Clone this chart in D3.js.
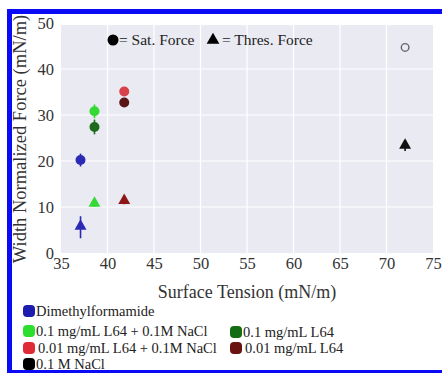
<!DOCTYPE html>
<html>
<head>
<meta charset="utf-8">
<script src="https://cdn.jsdelivr.net/npm/d3@7"></script>
<style>
  body { margin: 0; background: #fff; }
  svg text { font-family: "Liberation Serif", "Times New Roman", Times, "DejaVu Serif", serif !important; }
</style>
</head>
<body>
<svg id="chart" width="442" height="374"></svg>
<script>
// Data
const seriesNames = [
    "Dimethylformamide",
    "0.1 mg/mL L64 + 0.1M NaCl",
    "0.1 mg/mL L64",
    "0.01 mg/mL L64 + 0.1M NaCl",
    "0.01 mg/mL L64",
    "0.1 M NaCl"
];
const seriesColors = ["#1c1cae", "#2ede2e", "#136e13", "#e02a36", "#6a1212", "#000000"];
const markerColors = ["#2a2ab4", "#36d836", "#1f6a1f", "#d8404a", "#5a1616", "#111111"];
const surfaceTension = [37.1, 38.6, 38.6, 41.8, 41.8, 72.0];
const satForce = [20.2, 30.8, 27.4, 35.1, 32.7, 44.7];
const satErr = [1.4, 1.5, 1.6, 0.6, 0.6, 0];
const thresForce = [5.6, 10.6, null, null, 11.2, 23.2];
const thresErr = [2.4, 0.6, 0, 0, 0.6, 1.0];
const xTicks = [35, 40, 45, 50, 55, 60, 65, 70, 75];
const yTicks = [0, 10, 20, 30, 40, 50];

const svg = d3.select("#chart");

const plot = { left: 61, right: 433, top: 23, bottom: 253 };

const x = d3.scaleLinear().domain([35, 75]).range([plot.left, plot.right]);
const y = d3.scaleLinear().domain([0, 50]).range([plot.bottom, plot.top]);

// Plot background (seaborn darkgrid look)
svg.append("rect")
    .attr("x", plot.left)
    .attr("y", plot.top + 2)
    .attr("width", plot.right - plot.left)
    .attr("height", plot.bottom - plot.top - 2)
    .attr("fill", "#eaeaf2");

// Grid lines
const grid = svg.append("g").attr("stroke", "#ffffff").attr("stroke-width", 1.2);
grid.selectAll("line.v")
    .data(xTicks.slice(1, -1))
    .enter().append("line")
    .attr("x1", d => x(d)).attr("x2", d => x(d))
    .attr("y1", plot.top + 2).attr("y2", plot.bottom);
grid.selectAll("line.h")
    .data(yTicks.slice(1, -1))
    .enter().append("line")
    .attr("x1", plot.left).attr("x2", plot.right)
    .attr("y1", d => y(d)).attr("y2", d => y(d));

// Axes (labels only)
const xAxis = svg.append("g")
    .attr("transform", `translate(0, ${plot.bottom})`)
    .call(d3.axisBottom(x).tickValues(xTicks).tickSize(0).tickPadding(4));
const yAxis = svg.append("g")
    .attr("transform", `translate(${plot.left}, 0)`)
    .call(d3.axisLeft(y).tickValues(yTicks).tickSize(0).tickPadding(7));
[xAxis, yAxis].forEach(a => {
    a.select(".domain").remove();
    a.selectAll("text")
        .attr("font-size", 16.5)
        .attr("fill", "#333");
});

// Axis titles
svg.append("text")
    .attr("x", 247).attr("y", 298)
    .attr("text-anchor", "middle")
    .attr("font-size", 18)
    .attr("fill", "#333")
    .text("Surface Tension (mN/m)");
svg.append("text")
    .attr("transform", "translate(26, 139) rotate(-90)")
    .attr("text-anchor", "middle")
    .attr("font-size", 18.5)
    .attr("fill", "#333")
    .text("Width Normalized Force (mN/m)");

// Error bars
const marks = svg.append("g");
seriesNames.forEach((name, i) => {
    if (satErr[i] > 0) {
        marks.append("line")
            .attr("x1", x(surfaceTension[i])).attr("x2", x(surfaceTension[i]))
            .attr("y1", y(satForce[i] - satErr[i])).attr("y2", y(satForce[i] + satErr[i]))
            .attr("stroke", markerColors[i]).attr("stroke-width", 1.6);
    }
    if (thresForce[i] !== null && thresErr[i] > 0) {
        marks.append("line")
            .attr("x1", x(surfaceTension[i])).attr("x2", x(surfaceTension[i]))
            .attr("y1", y(thresForce[i] - thresErr[i])).attr("y2", y(thresForce[i] + thresErr[i]))
            .attr("stroke", markerColors[i]).attr("stroke-width", 1.6);
    }
});

// Saturation force: circles (0.1 M NaCl drawn open)
marks.selectAll("circle.sat")
    .data(seriesNames.map((n, i) => i))
    .enter().append("circle")
    .attr("cx", i => x(surfaceTension[i]))
    .attr("cy", i => y(satForce[i]))
    .attr("r", i => i === 5 ? 3.8 : 5)
    .attr("fill", i => i === 5 ? "none" : markerColors[i])
    .attr("stroke", i => i === 5 ? "#666" : "none")
    .attr("stroke-width", 1.4);

// Threshold force: triangles
const tri = d3.symbol().type(d3.symbolTriangle).size(62);
marks.selectAll("path.thres")
    .data(seriesNames.map((n, i) => i).filter(i => thresForce[i] !== null))
    .enter().append("path")
    .attr("d", tri)
    .attr("transform", i => `translate(${x(surfaceTension[i])}, ${y(thresForce[i]) - 1})`)
    .attr("fill", i => i === 4 ? "#8e1616" : markerColors[i]);

// Marker legend inside plot
const mk = svg.append("g").attr("font-size", 15.5).attr("fill", "#222");
mk.append("circle").attr("cx", 113).attr("cy", 40).attr("r", 5.5).attr("fill", "#000");
mk.append("text").attr("x", 119).attr("y", 45).text("= Sat. Force");
mk.append("path").attr("d", d3.symbol().type(d3.symbolTriangle).size(70))
    .attr("transform", "translate(213, 40)").attr("fill", "#000");
mk.append("text").attr("x", 222).attr("y", 45).text("= Thres. Force");

// Series legend below the chart
const legendPos = [
    { x: 23, y: 311 },
    { x: 23, y: 331 },
    { x: 230, y: 332 },
    { x: 23, y: 348 },
    { x: 230, y: 348 },
    { x: 23, y: 364 }
];
const leg = svg.append("g").attr("font-size", 14.5).attr("fill", "#222");
seriesNames.forEach((name, i) => {
    leg.append("rect")
        .attr("x", legendPos[i].x).attr("y", legendPos[i].y - 6)
        .attr("width", 12).attr("height", 12).attr("rx", 4)
        .attr("fill", seriesColors[i]);
    leg.append("text")
        .attr("x", legendPos[i].x + 13 + (i === 3 || i === 4 ? 2 : 0))
        .attr("y", legendPos[i].y + 5)
        .text(name);
});

// Blue frame: top, left and bottom edges
const frame = svg.append("g").attr("fill", "#0a0af5");
frame.append("rect").attr("x", 7).attr("y", 9).attr("width", 435).attr("height", 5);
frame.append("rect").attr("x", 7).attr("y", 9).attr("width", 5).attr("height", 364);
frame.append("rect").attr("x", 7).attr("y", 370).attr("width", 435).attr("height", 3);
</script>
</body>
</html>
